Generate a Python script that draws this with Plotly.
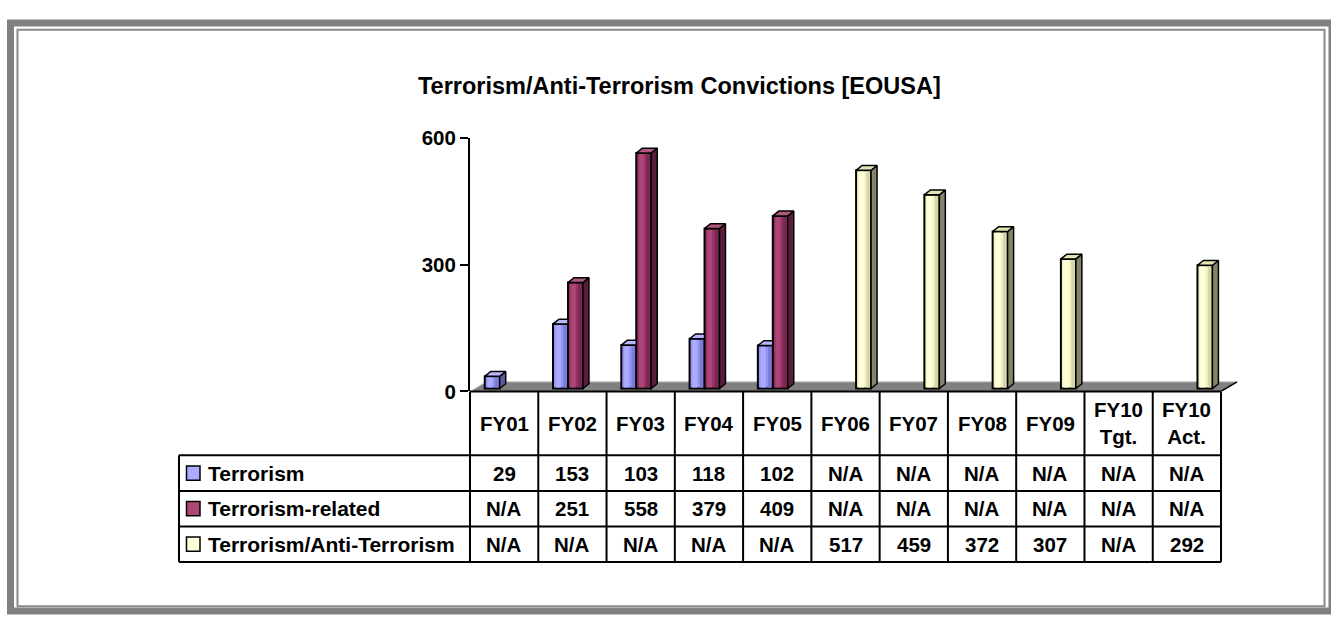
import plotly.graph_objects as go

# ---------------- data ----------------
categories = ["FY01", "FY02", "FY03", "FY04", "FY05", "FY06", "FY07", "FY08", "FY09",
              "FY10<br>Tgt.", "FY10<br>Act."]
terrorism = [29, 153, 103, 118, 102, None, None, None, None, None, None]
terrorism_related = [None, 251, 558, 379, 409, None, None, None, None, None, None]
anti_terrorism = [None, None, None, None, None, 517, 459, 372, 307, None, 292]
series_names = ["Terrorism", "Terrorism-related", "Terrorism/Anti-Terrorism"]
y_ticks = [0, 300, 600]
title_text = "Terrorism/Anti-Terrorism Convictions [EOUSA]"

series_values = [terrorism, terrorism_related, anti_terrorism]

# ---------------- styles ----------------
W, H = 1331, 621
FONT = "Arial, 'Liberation Sans', sans-serif"
FRONT = ["#9494F5", "#933263", "#F4F4C4"]
LIGHT = ["#ABABFF", "#AD4677", "#FFFFDA"]
SHADE = ["#7C7CD8", "#7A2853", "#D6D6A8"]
SIDE = ["#5C5CA3", "#5A1E3C", "#84846A"]
TOP = ["#B8B8FF", "#B0587F", "#E3E3B5"]
OFFSETS = [-0.284, -0.065, 0.155]
BAR_W = 0.219
BASE = 6.8            # bars sit slightly back on the floor
DX, DY = 0.088, 11.4  # 3-D depth of each bar (x units, value units)
FLOOR_DX, FLOOR_DY = 0.234, 22.8
INSET = 2.6           # keep shading strips inside the bar outline

def px(p):
    return p / W

def py(p):
    return 1 - p / H

X_RANGE = [-0.5, 10.8]
X_PX = [470, 1241.5]
Y_PX = [394, 131]
COL_PX = (X_PX[1] - X_PX[0]) / (X_RANGE[1] - X_RANGE[0])
ROW_PX = 36.9
X2_RANGE = [-4.9, 10.8]
Y2_RANGE = [3.1, -1.9]

def x_unit(p):
    return X_RANGE[0] + (p - X_PX[0]) / COL_PX

fig = go.Figure()
n = len(categories)
xs = list(range(n))

# front faces (real bars) + simple shading strips
for s in range(3):
    vals = series_values[s]
    fig.add_trace(go.Bar(
        x=xs, y=vals, base=BASE, offset=OFFSETS[s], width=BAR_W,
        marker=dict(color=FRONT[s], line=dict(color="black", width=2)),
        name=series_names[s], showlegend=False, xaxis="x", yaxis="y",
    ))
    inner = [None if v is None else v - 2 * INSET for v in vals]
    fig.add_trace(go.Bar(
        x=xs, y=inner, base=BASE + INSET, offset=OFFSETS[s] + 0.04, width=0.075,
        marker=dict(color=LIGHT[s], line=dict(width=0)),
        showlegend=False, hoverinfo="skip",
    ))
    fig.add_trace(go.Bar(
        x=xs, y=inner, base=BASE + INSET, offset=OFFSETS[s] + 0.15, width=0.055,
        marker=dict(color=SHADE[s], line=dict(width=0)),
        showlegend=False, hoverinfo="skip",
    ))

# 3-D top and side faces computed from the same values
for s in range(3):
    top_x, top_y, side_x, side_y = [], [], [], []
    for i, v in enumerate(series_values[s]):
        if v is None:
            continue
        x0 = i + OFFSETS[s]
        x1 = x0 + BAR_W
        b = BASE
        t = BASE + v
        nb = series_values[s + 1][i] if s < 2 else None
        if nb is not None and nb >= v:
            top_x += [x0, x1, x1, x0 + DX, x0, None]
            top_y += [t, t, t + DY, t + DY, t, None]
        else:
            top_x += [x0, x1, x1 + DX, x0 + DX, x0, None]
            top_y += [t, t, t + DY, t + DY, t, None]
            lo = b if nb is None else BASE + nb
            side_x += [x1, x1 + DX, x1 + DX, x1, x1, None]
            side_y += [lo, lo + DY, t + DY, t, lo, None]
    fig.add_trace(go.Scatter(x=side_x, y=side_y, mode="lines", fill="toself",
                             fillcolor=SIDE[s], line=dict(color="black", width=1.5),
                             hoverinfo="skip", showlegend=False))
    fig.add_trace(go.Scatter(x=top_x, y=top_y, mode="lines", fill="toself",
                             fillcolor=TOP[s], line=dict(color="black", width=1.5),
                             hoverinfo="skip", showlegend=False))

shapes = []
# floor
shapes.append(dict(type="path", xref="x", yref="y", layer="below",
                   path=f"M {X_RANGE[0]},0 L {n - 0.5},0 L {n - 0.5 + FLOOR_DX},{FLOOR_DY} "
                        f"L {X_RANGE[0] + FLOOR_DX},{FLOOR_DY} Z",
                   fillcolor="#808080", line=dict(width=0)))
shapes.append(dict(type="line", xref="x", yref="y", layer="below",
                   x0=X_RANGE[0] + FLOOR_DX, y0=FLOOR_DY, x1=n - 0.5 + FLOOR_DX, y1=FLOOR_DY,
                   line=dict(color="#C8C8C8", width=1)))
shapes.append(dict(type="line", xref="x", yref="y", layer="below",
                   x0=X_RANGE[0], y0=0, x1=X_RANGE[0] + FLOOR_DX, y1=FLOOR_DY,
                   line=dict(color="#D8D8D8", width=1)))
shapes.append(dict(type="line", xref="x", yref="y",
                   x0=n - 0.5, y0=0, x1=n - 0.5 + FLOOR_DX, y1=FLOOR_DY,
                   line=dict(color="black", width=1.5)))

# data table grid
legend_left = x_unit(179)
LW = 2
shapes.append(dict(type="line", xref="x2", yref="y2", x0=-0.5, x1=n - 0.5, y0=-1.8, y1=-1.8,
                   line=dict(color="black", width=LW)))
for r in range(4):
    shapes.append(dict(type="line", xref="x2", yref="y2", x0=legend_left, x1=n - 0.5,
                       y0=r, y1=r, line=dict(color="black", width=LW)))
shapes.append(dict(type="line", xref="x2", yref="y2", x0=legend_left, x1=legend_left,
                   y0=0, y1=3, line=dict(color="black", width=LW)))
for c in range(n + 1):
    shapes.append(dict(type="line", xref="x2", yref="y2", x0=c - 0.5, x1=c - 0.5,
                       y0=-1.8, y1=3, line=dict(color="black", width=LW)))

annotations = []
tfont = dict(family=FONT, size=20.5, color="black", weight="bold")
lfont = dict(family=FONT, size=21, color="black", weight="bold")
for c, cat in enumerate(categories):
    annotations.append(dict(xref="x2", yref="y2", x=c, y=-0.9, text=cat, showarrow=False,
                            font=tfont, xanchor="center", yanchor="middle"))
for s in range(3):
    for c, v in enumerate(series_values[s]):
        annotations.append(dict(xref="x2", yref="y2", x=c, y=s + 0.5,
                                text="N/A" if v is None else str(v), showarrow=False,
                                font=tfont, xanchor="center", yanchor="middle"))
    shapes.append(dict(type="rect", xref="x2", yref="y2",
                       x0=x_unit(186.5), x1=x_unit(200), y0=s + 0.5 - 0.2, y1=s + 0.5 + 0.2,
                       fillcolor=LIGHT[s], line=dict(color="black", width=1.5)))
    annotations.append(dict(xref="x2", yref="y2", x=x_unit(205.5), y=s + 0.5,
                            text=series_names[s], showarrow=False, font=lfont,
                            xanchor="left", yanchor="middle"))

# title
annotations.append(dict(xref="paper", yref="paper", x=px(679), y=py(77), text=title_text,
                        showarrow=False, xanchor="center", yanchor="middle",
                        font=dict(family=FONT, size=23.5, color="black", weight="bold")))

# outer frame
shapes.append(dict(type="rect", xref="paper", yref="paper", x0=px(10.5), x1=px(1332),
                   y0=py(622), y1=py(11.5), line=dict(color="#808080", width=7)))
shapes.append(dict(type="rect", xref="paper", yref="paper", x0=px(17.5), x1=px(1324.5),
                   y0=py(617), y1=py(18.5), line=dict(color="#8A8A8A", width=2)))

fig.update_layout(
    width=W, height=H, margin=dict(l=0, r=0, t=0, b=0, pad=0),
    paper_bgcolor="white", plot_bgcolor="rgba(0,0,0,0)",
    barmode="overlay", showlegend=False,
    xaxis=dict(domain=[px(X_PX[0]), px(X_PX[1])], range=X_RANGE, visible=False, anchor="y"),
    yaxis=dict(domain=[py(Y_PX[0]), py(Y_PX[1])], range=[0, 600], tickvals=y_ticks,
               ticks="outside", ticklen=8, tickwidth=2, tickcolor="black",
               showline=True, linewidth=2, linecolor="black", showgrid=False,
               zeroline=False, anchor="x",
               tickfont=dict(family=FONT, size=20.5, color="black", weight="bold")),
    xaxis2=dict(domain=[px(X_PX[0] + (X2_RANGE[0] - X_RANGE[0]) * COL_PX), px(X_PX[1])],
                range=X2_RANGE, visible=False, anchor="y2"),
    yaxis2=dict(domain=[py(Y_PX[0] + (Y2_RANGE[0] + 1.8) * ROW_PX),
                        py(Y_PX[0] + (Y2_RANGE[1] + 1.8) * ROW_PX)],
                range=Y2_RANGE, visible=False, anchor="x2"),
    shapes=shapes, annotations=annotations,
)

fig.write_html("out.html", config={"displayModeBar": False},
               post_script="document.body.style.margin='0';document.body.style.overflow='hidden';")
